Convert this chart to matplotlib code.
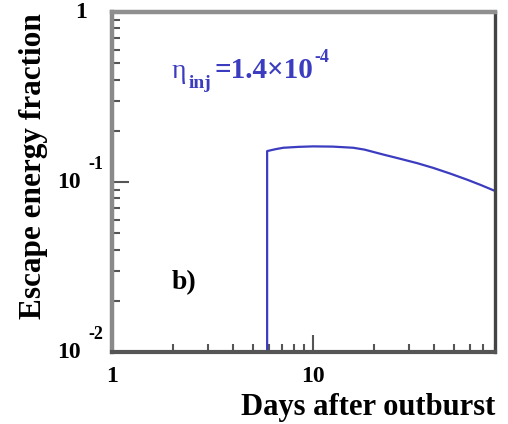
import matplotlib
matplotlib.use("Agg")
import matplotlib.pyplot as plt
from matplotlib.ticker import LogLocator, NullFormatter

# Data
days = [5.9, 5.9, 6.5, 7.1, 8.5, 10, 12.5, 15.8, 18, 22.3, 27, 32.9, 39.5, 48, 58.4, 68, 80]
fraction = [0.009, 0.152, 0.156, 0.159, 0.161, 0.162, 0.1615, 0.159, 0.155, 0.145, 0.137,
            0.129, 0.121, 0.112, 0.103, 0.096, 0.0886]

x_ticks = [1, 10]
x_tick_labels = ["1", "10"]
y_ticks = [1e-2, 1e-1, 1]
y_tick_bases = ["10", "10", "1"]
y_tick_exps = ["-2", "-1", ""]

xlabel = "Days after outburst"
ylabel = "Escape energy fraction"
annot_sym = "η"
annot_sub = "inj"
annot_val = "=1.4×10"
annot_exp = "-4"
panel = "b)"

color = "#3c3cc0"
serif = "Liberation Serif"

fig = plt.figure(figsize=(5.08, 4.24), dpi=100)
ax = fig.add_axes([112/508, 1-352/424, (495-112)/508, (352-12)/424])
ax.set_xscale("log")
ax.set_yscale("log")
ax.set_xlim(1, 80)
ax.set_ylim(1e-2, 1)

ax.plot(days, fraction, color=color, lw=1.6, solid_joinstyle="round")

# Spines
for s, c, w in [("left", "#8a8a8a", 3.2), ("top", "#8f8f8f", 3.2),
                ("bottom", "#555555", 3.0), ("right", "#444444", 2.4)]:
    ax.spines[s].set_color(c)
    ax.spines[s].set_linewidth(w)

ax.xaxis.set_major_locator(LogLocator(base=10, numticks=10))
ax.xaxis.set_minor_locator(LogLocator(base=10, subs=range(2, 10), numticks=20))
ax.yaxis.set_major_locator(LogLocator(base=10, numticks=10))
ax.yaxis.set_minor_locator(LogLocator(base=10, subs=range(2, 10), numticks=20))
ax.xaxis.set_major_formatter(NullFormatter())
ax.xaxis.set_minor_formatter(NullFormatter())
ax.yaxis.set_major_formatter(NullFormatter())
ax.yaxis.set_minor_formatter(NullFormatter())
ax.tick_params(which="both", direction="in", top=False, right=False,
               color="#555555", width=1.5)
ax.tick_params(which="major", length=12)
ax.tick_params(which="minor", length=6)

# X tick labels
for xv, lab in zip(x_ticks, x_tick_labels):
    ax.annotate(lab, xy=(xv, 0), xycoords=("data", "axes fraction"),
                xytext=(0, -18), textcoords="offset points",
                ha="center", va="center", fontsize=17, fontweight="bold",
                family=serif, annotation_clip=False)

# Y tick labels
for yv, base, ex in zip(y_ticks, y_tick_bases, y_tick_exps):
    if ex:
        ax.annotate(base, xy=(0, yv), xycoords=("axes fraction", "data"),
                    xytext=(-22.5, 0), textcoords="offset points",
                    ha="right", va="center", fontsize=17, fontweight="bold",
                    family=serif, annotation_clip=False)
        ax.annotate(ex, xy=(0, yv), xycoords=("axes fraction", "data"),
                    xytext=(-17, 12.5), textcoords="offset points",
                    ha="left", va="center", fontsize=13, fontweight="bold",
                    family=serif, annotation_clip=False)
    else:
        ax.annotate(base, xy=(0, yv), xycoords=("axes fraction", "data"),
                    xytext=(-18, 0), textcoords="offset points",
                    ha="right", va="center", fontsize=17, fontweight="bold",
                    family=serif, annotation_clip=False)

# Axis labels
fig.text(495/508, 1-408/424, xlabel, ha="right", va="center",
         fontsize=22, fontweight="bold", family=serif)
fig.text(34/508, 1-166/424, ylabel, ha="center", va="center", rotation=90,
         fontsize=22.5, fontweight="bold", family=serif)

# Annotations
fig.text(172/508, 1-72/424, annot_sym, ha="left", va="center",
         fontsize=20, family=serif, color=color)
fig.text(189/508, 1-84/424, annot_sub, ha="left", va="center",
         fontsize=14, fontweight="bold", family=serif, color=color)
fig.text(313/508, 1-70/424, annot_val, ha="right", va="center",
         fontsize=21, fontweight="bold", family=serif, color=color)
fig.text(314/508, 1-57/424, annot_exp, ha="left", va="center",
         fontsize=13, fontweight="bold", family=serif, color=color)
fig.text(172/508, 1-283/424, panel, ha="left", va="center",
         fontsize=20, fontweight="bold", family=serif)

fig.savefig("out.png", dpi=100)
